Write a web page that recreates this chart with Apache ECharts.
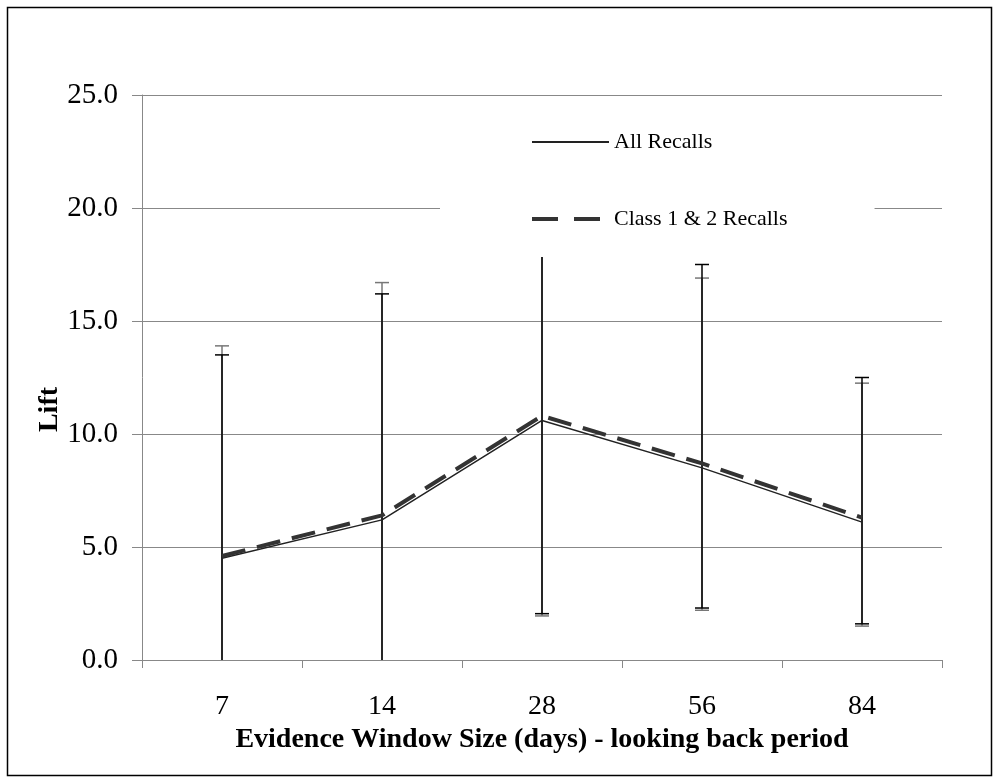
<!DOCTYPE html>
<html><head><meta charset="utf-8">
<script src="https://cdn.jsdelivr.net/npm/echarts@6/dist/echarts.min.js"></script>
<style>html,body{margin:0;padding:0;background:#fff}#c{width:1000px;height:778px}</style>
</head><body><div id="c"></div>
<script>
const categories = ['7', '14', '28', '56', '84'];
const allRecalls = [4.5, 6.2, 10.6, 8.5, 6.1];
const class12Recalls = [4.6, 6.4, 10.8, 8.7, 6.3];
const allLow = [-4.5, -3.8, 2.05, 2.3, 1.6];
const allHigh = [13.5, 16.2, 17.9, 17.5, 12.5];
const classLow = [-4.6, -3.9, 1.95, 2.2, 1.5];
const classHigh = [13.9, 16.7, 18.2, 16.9, 12.25];
const yTicks = [0, 5, 10, 15, 20, 25];

const FONT = '"Liberation Serif", "Times New Roman", serif';

function errData(lo, hi) { return categories.map((c, i) => [i, lo[i], hi[i]]); }
function errRender(color) {
  return function (params, api) {
    const x = api.value(0);
    const lo = api.coord([x, api.value(1)]);
    const hi = api.coord([x, api.value(2)]);
    const w = 7;
    const style = { stroke: color, lineWidth: 1.5 };
    return {
      type: 'group',
      children: [
        { type: 'line', shape: { x1: lo[0], y1: lo[1], x2: hi[0], y2: hi[1] }, style },
        { type: 'line', shape: { x1: hi[0] - w, y1: hi[1], x2: hi[0] + w, y2: hi[1] }, style },
        { type: 'line', shape: { x1: lo[0] - w, y1: lo[1], x2: lo[0] + w, y2: lo[1] }, style }
      ]
    };
  };
}

const chart = echarts.init(document.getElementById('c'));
chart.setOption({
  animation: false,
  backgroundColor: '#fff',
  graphic: [{
    type: 'rect', shape: { x: 7.5, y: 7.5, width: 984, height: 768 },
    style: { fill: 'none', stroke: '#000', lineWidth: 1.5 }, z: 0
  }],
  grid: { left: 142, right: 58, top: 95, bottom: 118 },
  legend: {
    orient: 'vertical',
    left: 440, top: 110,
    padding: [21, 87, 27, 90],
    backgroundColor: '#fff',
    itemWidth: 77, itemHeight: 22, itemGap: 55, itemTextGap: 6,
    itemStyle: { opacity: 0 },
    textStyle: { fontFamily: FONT, fontSize: 22, color: '#000' },
    data: [
      { name: 'All Recalls' },
      { name: 'Class 1 & 2 Recalls', lineStyle: { type: [26, 16], width: 4 } }
    ],
    z: 10
  },
  xAxis: {
    type: 'category',
    data: categories,
    boundaryGap: true,
    name: 'Evidence Window Size (days) - looking back period',
    nameLocation: 'middle', nameGap: 66, nameMoveOverlap: false,
    nameTextStyle: { fontFamily: FONT, fontSize: 28, fontWeight: 'bold', color: '#000' },
    axisLine: { lineStyle: { color: '#888', width: 1 } },
    axisTick: { show: true, length: 8, lineStyle: { color: '#888' } },
    axisLabel: { fontFamily: FONT, fontSize: 28, color: '#000', margin: 33 }
  },
  yAxis: {
    type: 'value', min: 0, max: 25, interval: 5,
    name: 'Lift', nameLocation: 'middle', nameGap: 78, nameRotate: 90, nameMoveOverlap: false,
    nameTextStyle: { fontFamily: FONT, fontSize: 28, fontWeight: 'bold', color: '#000', padding: [0, 64, 0, 0] },
    axisLine: { show: true, lineStyle: { color: '#888', width: 1 } },
    axisTick: { show: true, inside: false, length: 10, lineStyle: { color: '#888' } },
    axisLabel: { fontFamily: FONT, fontSize: 29, color: '#000', margin: 24,
      formatter: v => yTicks.includes(v) ? v.toFixed(1) : '' },
    splitLine: { lineStyle: { color: '#888', width: 1 } }
  },
  series: [
    { type: 'custom', name: 'errClass', data: errData(classLow, classHigh),
      renderItem: errRender('#777'), clip: true, z: 3, silent: true },
    { type: 'custom', name: 'errAll', data: errData(allLow, allHigh),
      renderItem: errRender('#000'), clip: true, z: 3, silent: true },
    { type: 'line', name: 'All Recalls', data: allRecalls, symbol: 'none',
      lineStyle: { color: '#222', width: 1.5, type: 'solid' }, itemStyle: { color: '#222' }, z: 4 },
    { type: 'line', name: 'Class 1 & 2 Recalls', data: class12Recalls, symbol: 'none',
      lineStyle: { color: '#333', width: 4, type: [24, 12] }, itemStyle: { color: '#333' }, z: 4 }
  ]
});
</script></body></html>
